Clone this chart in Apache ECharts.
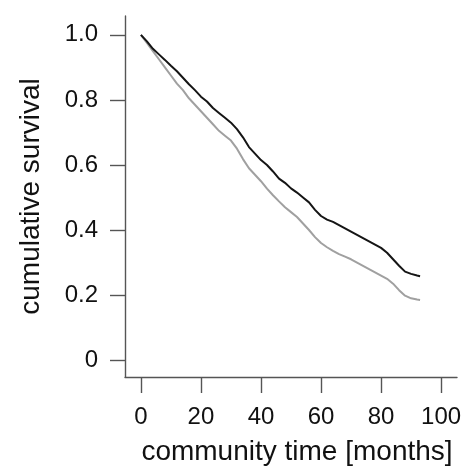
<!DOCTYPE html>
<html>
<head>
<meta charset="utf-8">
<script src="https://cdn.jsdelivr.net/npm/echarts@6/dist/echarts.min.js"></script>
<style>html,body{margin:0;padding:0;background:#fff}#c{width:465px;height:467px}</style>
</head>
<body>
<div id="c"></div>
<script>
// time in months
const months = [0,2,4,6,8,10,12,14,16,18,20,22,24,26,28,30,32,34,36,38,40,42,44,46,48,50,52,54,56,58,60,62,64,66,68,70,72,74,76,78,80,82,84,86,88,90,92,93];
// upper (black) curve
const survivalBlack = [1.0,0.98,0.957,0.94,0.923,0.905,0.888,0.868,0.848,0.83,0.81,0.795,0.775,0.76,0.745,0.73,0.71,0.685,0.655,0.635,0.615,0.6,0.58,0.558,0.545,0.528,0.515,0.5,0.485,0.462,0.443,0.432,0.425,0.415,0.405,0.395,0.385,0.375,0.365,0.355,0.345,0.33,0.31,0.29,0.272,0.265,0.26,0.258];
// lower (gray) curve
const survivalGray = [1.0,0.975,0.95,0.925,0.9,0.875,0.85,0.83,0.805,0.785,0.765,0.745,0.725,0.705,0.69,0.675,0.65,0.618,0.59,0.57,0.55,0.527,0.507,0.488,0.47,0.455,0.44,0.42,0.4,0.378,0.36,0.347,0.336,0.326,0.318,0.31,0.3,0.29,0.28,0.27,0.26,0.25,0.235,0.215,0.198,0.19,0.186,0.185];
const xTicks = [0,20,40,60,80,100];
const yTicks = [0,0.2,0.4,0.6,0.8,1.0];
const xTitle = 'community time [months]';
const yTitle = 'cumulative survival';

const pair = (xs, ys) => xs.map((x, i) => [x, ys[i]]);
const font = 'Liberation Sans, Arial, Helvetica, sans-serif';
const axisColor = '#555';

const chart = echarts.init(document.getElementById('c'), null, {renderer: 'canvas'});
chart.setOption({
  animation: false,
  backgroundColor: '#fff',
  grid: {left: 125, right: 8, top: 16, bottom: 90, containLabel: false, outerBoundsMode: 'none'},
  xAxis: {
    type: 'value', min: -5.3, max: 105.3,
    name: xTitle, nameLocation: 'middle', nameGap: 61,
    nameTextStyle: {fontSize: 28, color: '#111', fontFamily: font, padding: [0, 0, 0, 12]},
    axisLine: {show: true, onZero: false, lineStyle: {color: axisColor, width: 1.4}},
    axisTick: {show: true, inside: false, length: 16, customValues: xTicks, lineStyle: {color: axisColor, width: 1.4}},
    axisLabel: {customValues: xTicks, fontSize: 24, color: '#111', fontFamily: font, margin: 28},
    splitLine: {show: false}
  },
  yAxis: {
    type: 'value', min: -0.052, max: 1.058,
    name: yTitle, nameLocation: 'middle', nameGap: 80, nameRotate: 90,
    nameTextStyle: {fontSize: 28, color: '#111', fontFamily: font},
    axisLine: {show: true, onZero: false, lineStyle: {color: axisColor, width: 1.4}},
    axisTick: {show: true, inside: false, length: 15, customValues: yTicks, lineStyle: {color: axisColor, width: 1.4}},
    axisLabel: {customValues: yTicks, fontSize: 24, color: '#111', fontFamily: font, margin: 27,
      formatter: v => (Math.abs(v) < 1e-9 ? '0' : v.toFixed(1))},
    splitLine: {show: false}
  },
  series: [
    {type: 'line', data: pair(months, survivalGray), showSymbol: false, lineStyle: {color: '#a0a0a0', width: 2}},
    {type: 'line', data: pair(months, survivalBlack), showSymbol: false, lineStyle: {color: '#151515', width: 2}}
  ]
});
</script>
</body>
</html>
